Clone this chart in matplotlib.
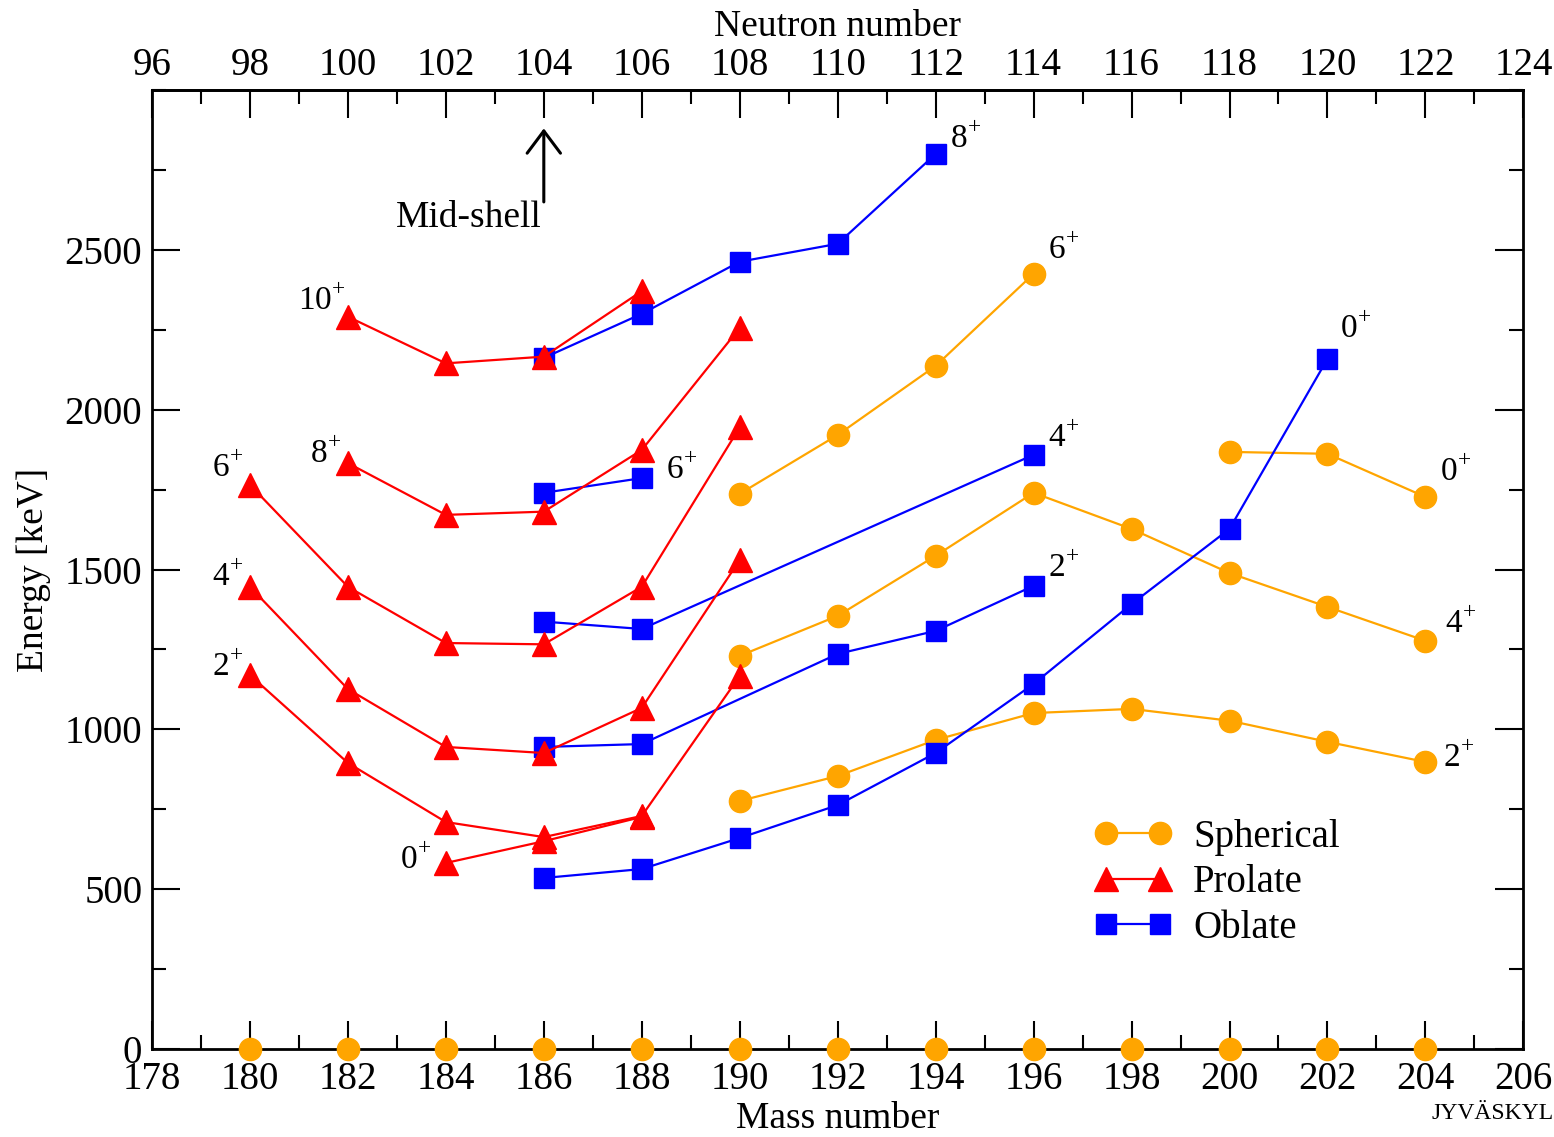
import matplotlib
matplotlib.use("Agg")
import matplotlib.pyplot as plt
from matplotlib.ticker import MultipleLocator

plt.rcParams['font.family'] = ['Liberation Serif', 'DejaVu Serif']
plt.rcParams['mathtext.fontset'] = 'custom'
plt.rcParams['mathtext.rm'] = 'Liberation Serif'

ORANGE = '#FFA500'
RED = '#FF0000'
BLUE = '#0000FF'

# spherical states
sph_ground_A = [180, 182, 184, 186, 188, 190, 192, 194, 196, 198, 200, 202, 204]
sph_ground_E = [0] * 13
sph2_A = [190, 192, 194, 196, 198, 200, 202, 204]
sph2_E = [776, 854, 967, 1051, 1064, 1027, 961, 898]
sph4_A = [190, 192, 194, 196, 198, 200, 202, 204]
sph4_E = [1230, 1355, 1543, 1740, 1627, 1489, 1383, 1277]
sph6_A = [190, 192, 194, 196]
sph6_E = [1737, 1921, 2137, 2425]
sph0_A = [200, 202, 204]
sph0_E = [1868, 1862, 1727]

# prolate states
pro0_A = [184, 186, 188]
pro0_E = [582, 650, 726]
pro2_A = [180, 182, 184, 186, 188, 190]
pro2_E = [1170, 895, 710, 663, 729, 1167]
pro4_A = [180, 182, 184, 186, 188, 190]
pro4_E = [1446, 1126, 945, 926, 1067, 1530]
pro6_A = [180, 182, 184, 186, 188, 190]
pro6_E = [1765, 1446, 1270, 1266, 1446, 1945]
pro8_A = [182, 184, 186, 188, 190]
pro8_E = [1833, 1671, 1681, 1874, 2256]
pro10_A = [182, 184, 186, 188]
pro10_E = [2291, 2145, 2166, 2371]

# oblate states
obl0_A = [186, 188, 190, 192, 194, 196, 198, 200, 202]
obl0_E = [535, 563, 660, 763, 926, 1142, 1392, 1627, 2159]
obl2_A = [186, 188, 192, 194, 196]
obl2_E = [945, 954, 1236, 1308, 1449]
obl4_A = [186, 188, 196]
obl4_E = [1337, 1314, 1859]
obl6_A = [186, 188]
obl6_E = [1740, 1786]
obl8_A = [186, 188, 190, 192, 194]
obl8_E = [2162, 2300, 2463, 2519, 2800]

# spin labels: (text, A, E, ha)
labels = [
    ('10', 181.95, 2340, 'right'), ('8', 181.85, 1860, 'right'),
    ('6', 179.85, 1815, 'right'), ('4', 179.85, 1475, 'right'),
    ('2', 179.85, 1195, 'right'), ('0', 183.7, 590, 'right'),
    ('6', 188.5, 1810, 'left'), ('8', 194.3, 2845, 'left'),
    ('6', 196.3, 2500, 'left'), ('4', 196.3, 1910, 'left'),
    ('2', 196.3, 1505, 'left'), ('0', 202.25, 2250, 'left'),
    ('0', 204.3, 1805, 'left'), ('4', 204.4, 1330, 'left'),
    ('2', 204.35, 910, 'left'),
]

fig = plt.figure(figsize=(15.54, 11.37), dpi=100)
ax = fig.add_axes([0.0978, 0.0774, 0.8825, 0.8434])

lw = 1.6
kw_s = dict(color=ORANGE, marker='o', markersize=16, lw=lw)
kw_p = dict(color=RED, marker='^', markersize=17, lw=lw)
kw_o = dict(color=BLUE, marker='s', markersize=14, lw=lw)

# ground states sit on the axis, markers only
ax.plot(sph_ground_A, sph_ground_E, clip_on=False, zorder=5, color=ORANGE,
        marker='o', markersize=16, ls='none')
for A, E in [(sph2_A, sph2_E), (sph4_A, sph4_E), (sph6_A, sph6_E), (sph0_A, sph0_E)]:
    ax.plot(A, E, **kw_s)
for A, E in [(obl0_A, obl0_E), (obl2_A, obl2_E), (obl4_A, obl4_E),
             (obl6_A, obl6_E), (obl8_A, obl8_E)]:
    ax.plot(A, E, **kw_o)
for A, E in [(pro0_A, pro0_E), (pro2_A, pro2_E), (pro4_A, pro4_E),
             (pro6_A, pro6_E), (pro8_A, pro8_E), (pro10_A, pro10_E)]:
    ax.plot(A, E, **kw_p)

for txt, A, E, ha in labels:
    ax.text(A, E, r'$\mathrm{%s}^{+}$' % txt, fontsize=24, ha=ha, va='center')

# mid-shell arrow
ax.annotate('', xy=(186, 2880), xytext=(186, 2650),
            arrowprops=dict(arrowstyle='->,head_length=0.8,head_width=0.6', lw=2.2,
                            color='black', mutation_scale=20, shrinkA=0, shrinkB=0))
ax.text(185.95, 2600, 'Mid-shell', fontsize=27, ha='right', va='center')

ax.set_xlim(178, 206)
ax.set_ylim(0, 3000)
ax.xaxis.set_major_locator(MultipleLocator(2))
ax.xaxis.set_minor_locator(MultipleLocator(1))
ax.yaxis.set_minor_locator(MultipleLocator(250))
ax.set_yticks([0, 500, 1000, 1500, 2000, 2500])
ax.tick_params(which='both', direction='in', top=False, right=True, width=1.5, labelsize=28)
ax.tick_params(which='major', length=20)
ax.tick_params(axis='x', which='major', pad=9)
ax.tick_params(axis='y', which='major', pad=7)
ax.tick_params(which='minor', length=10)
for s in ax.spines.values():
    s.set_linewidth(2)

ax.set_xlabel('Mass number', fontsize=27, labelpad=2)
ax.set_ylabel('Energy [keV]', fontsize=27, labelpad=10)

top = ax.secondary_xaxis('top', functions=(lambda a: a - 82, lambda n: n + 82))
top.xaxis.set_major_locator(MultipleLocator(2))
top.xaxis.set_minor_locator(MultipleLocator(1))
top.tick_params(which='both', direction='in', width=1.5, labelsize=28)
top.tick_params(which='major', length=20, pad=4)
top.tick_params(which='minor', length=10)
top.spines['top'].set_linewidth(2)
top.set_xlabel('Neutron number', fontsize=27, labelpad=8)

leg = ax.legend([ax.lines[1], ax.lines[-1], ax.lines[5]], ['Spherical', 'Prolate', 'Oblate'],
                loc='upper left', bbox_to_anchor=(0.687, 0.24), frameon=False,
                numpoints=2, handlelength=2.0, fontsize=28, labelspacing=0.22,
                handletextpad=0.55, borderaxespad=0, borderpad=0)

fig.text(0.921, 0.021, 'JYVÄSKYL', fontsize=17, ha='left', va='center')

fig.savefig('out.png', dpi=100)
